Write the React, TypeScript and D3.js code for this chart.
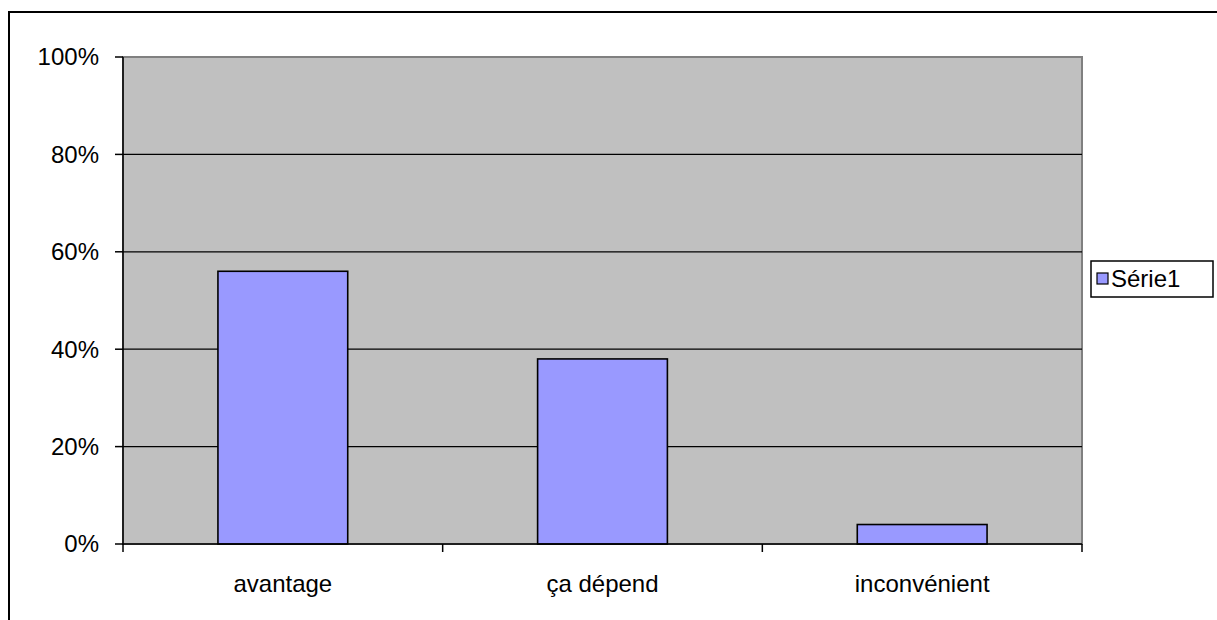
import React, { useEffect, useRef } from 'react';
import * as d3 from 'd3';

const categories = ['avantage', 'ça dépend', 'inconvénient'];
const values = [0.56, 0.38, 0.04];
const yTicks = [0, 0.2, 0.4, 0.6, 0.8, 1];
const seriesName = 'Série1';

const W = 1217;
const H = 620;
const margin = { top: 57, right: 135, bottom: 76, left: 123 };
const FONT = '"Liberation Sans", Arial, sans-serif';

const App: React.FC = () => {
  const svgRef = useRef<SVGSVGElement>(null);

  useEffect(() => {
    if (!svgRef.current) return;
    const svg = d3.select(svgRef.current);
    svg.selectAll('*').remove();

    const x0 = margin.left;
    const x1 = W - margin.right;
    const y0 = H - margin.bottom;
    const y1 = margin.top;

    const x = d3.scaleBand<string>()
      .domain(categories)
      .range([x0, x1])
      .paddingInner(0.594)
      .paddingOuter(0.297);

    const y = d3.scaleLinear().domain([0, 1]).range([y0, y1]);

    // outer chart border (runs off right/bottom)
    svg.append('rect')
      .attr('x', 9).attr('y', 12)
      .attr('width', W).attr('height', H)
      .attr('fill', 'white')
      .attr('stroke', '#000').attr('stroke-width', 2);

    // plot area
    svg.append('rect')
      .attr('x', x0).attr('y', y1)
      .attr('width', x1 - x0).attr('height', y0 - y1)
      .attr('fill', '#c0c0c0')
      .attr('stroke', '#808080').attr('stroke-width', 2);

    // gridlines
    svg.append('g')
      .selectAll('line')
      .data(yTicks.filter(t => t > 0 && t < 1))
      .enter().append('line')
      .attr('x1', x0).attr('x2', x1)
      .attr('y1', d => y(d)).attr('y2', d => y(d))
      .attr('stroke', '#000').attr('stroke-width', 1.3);

    // bars
    svg.append('g')
      .selectAll('rect')
      .data(values)
      .enter().append('rect')
      .attr('x', (_, i) => x(categories[i])!)
      .attr('y', d => y(d))
      .attr('width', x.bandwidth())
      .attr('height', d => y0 - y(d))
      .attr('fill', '#9999ff')
      .attr('stroke', '#000').attr('stroke-width', 1.6);

    // y axis
    svg.append('line')
      .attr('x1', x0).attr('x2', x0).attr('y1', y1).attr('y2', y0 + 1)
      .attr('stroke', '#000').attr('stroke-width', 1.5);
    const yAxis = svg.append('g');
    yAxis.selectAll('line')
      .data(yTicks).enter().append('line')
      .attr('x1', x0 - 8).attr('x2', x0)
      .attr('y1', d => y(d)).attr('y2', d => y(d))
      .attr('stroke', '#000').attr('stroke-width', 1.5);
    yAxis.selectAll('text')
      .data(yTicks).enter().append('text')
      .attr('x', x0 - 24).attr('y', d => y(d))
      .attr('dy', '0.35em')
      .attr('text-anchor', 'end')
      .attr('font-family', FONT).attr('font-size', 24)
      .text(d => d3.format('.0%')(d));

    // x axis
    svg.append('line')
      .attr('x1', x0).attr('x2', x1).attr('y1', y0).attr('y2', y0)
      .attr('stroke', '#000').attr('stroke-width', 1.5);
    const step = x.step();
    const boundaries = d3.range(categories.length + 1).map(i => x0 + i * step);
    svg.append('g')
      .selectAll('line')
      .data(boundaries).enter().append('line')
      .attr('x1', d => d).attr('x2', d => d)
      .attr('y1', y0).attr('y2', y0 + 8)
      .attr('stroke', '#000').attr('stroke-width', 1.5);
    svg.append('g')
      .selectAll('text')
      .data(categories).enter().append('text')
      .attr('x', d => x(d)! + x.bandwidth() / 2)
      .attr('y', y0 + 48)
      .attr('text-anchor', 'middle')
      .attr('font-family', FONT).attr('font-size', 24)
      .text(d => d);

    // legend
    const lg = svg.append('g').attr('transform', 'translate(1091,261)');
    lg.append('rect')
      .attr('width', 122).attr('height', 36)
      .attr('fill', 'white')
      .attr('stroke', '#000').attr('stroke-width', 1.5);
    lg.append('rect')
      .attr('x', 6).attr('y', 12).attr('width', 11).attr('height', 11)
      .attr('fill', '#9999ff')
      .attr('stroke', '#000').attr('stroke-width', 1.2);
    lg.append('text')
      .attr('x', 20).attr('y', 18).attr('dy', '0.35em')
      .attr('font-family', FONT).attr('font-size', 24)
      .text(seriesName);
  }, []);

  return (
    <svg
      ref={svgRef}
      width={W}
      height={H}
      style={{ position: 'absolute', left: 0, top: 0, display: 'block' }}
    />
  );
};

export default App;
